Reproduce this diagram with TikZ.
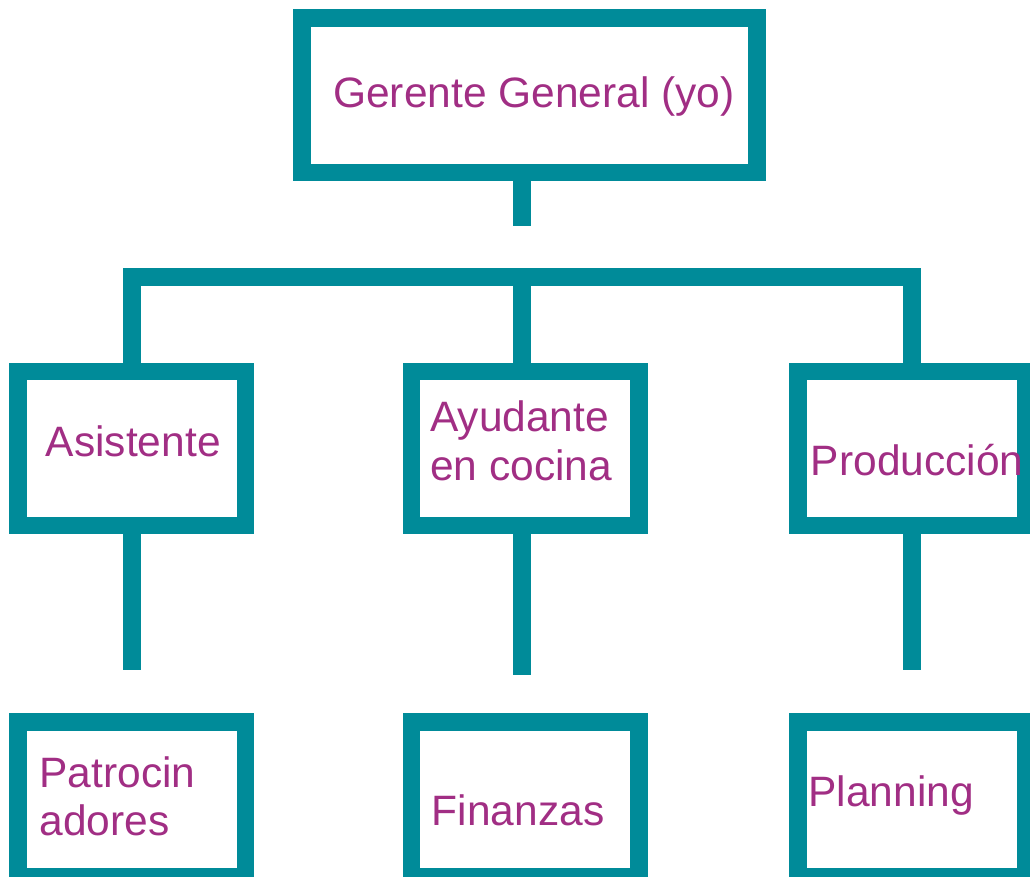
\documentclass[tikz,border=0pt]{standalone}
\usepackage{fontspec}
\setmainfont{Liberation Sans}
\definecolor{teal1}{RGB}{0,139,153}
\definecolor{plum1}{RGB}{161,46,132}
\begin{document}
\begin{tikzpicture}[x=1pt,y=-1pt,
  box/.style={draw=teal1, line width=17.5pt, rectangle, minimum width=227.5pt, minimum height=154pt, inner sep=0pt, outer sep=0pt},
  wire/.style={draw=teal1, line width=17.4pt, line cap=butt, line join=miter},
  lbl/.style={text=plum1, font=\fontsize{42.5}{48.3}\selectfont, anchor=base west, inner sep=0pt}]
\useasboundingbox (0,0) rectangle (1030,877);
% boxes
\node[box, minimum width=455pt, minimum height=154.3pt] (gg) at (529.5,95.2) {};
\node[box] (as) at (131.8,448.5) {};
\node[box] (ay) at (525,448.5) {};
\node[box] (pr) at (911.8,448.5) {};
\node[box, minimum height=154.5pt] (pa) at (131.8,799.3) {};
\node[box, minimum height=154.5pt] (fi) at (525,799.3) {};
\node[box, minimum height=154.5pt] (pl) at (911.8,799.3) {};
% connectors
\coordinate (gstub) at (522,225.7);
\coordinate (busM) at (522,277);
\coordinate (asb) at (131.8,669.7);
\coordinate (ayb) at (522,675.3);
\coordinate (prb) at (911.8,669.7);
\draw[wire] (gg.south -| gstub) -- (gstub);
\draw[wire] (as.north) -- (as.north |- busM) -- (pr.north |- busM) -- (pr.north);
\draw[wire] (busM) -- (ay.north -| busM);
\draw[wire] (as.south) -- (asb);
\draw[wire] (ay.south -| ayb) -- (ayb);
\draw[wire] (pr.south) -- (prb);
% labels
\node[lbl] (tgg) at (333,107.7) {Gerente General (yo)};
\node[lbl] (tas) at (45.7,456.7) {Asistente};
\node[lbl] (tay1) at (430,431.7) {Ayudante};
\node[lbl] (tay2) at (430,480) {en cocina};
\node[lbl] (tpr) at (810.7,475) {Producción};
\node[lbl] (tpa1) at (39.3,787.7) {Patrocin};
\node[lbl] (tpa2) at (39.3,835) {adores};
\node[lbl] (tfi) at (431.7,825) {Finanzas};
\node[lbl] (tpl) at (808.3,806.7) {Planning};
\end{tikzpicture}
\end{document}
